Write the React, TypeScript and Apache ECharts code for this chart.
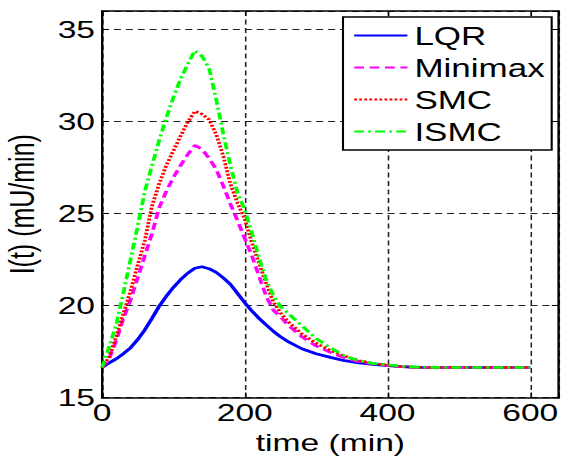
import React, { useEffect, useRef } from "react";
import * as echarts from "echarts";

const time = [0, 10, 20, 30, 40, 50, 60, 70, 80, 90, 100, 110, 120, 130, 140, 150, 160, 170, 180, 190, 200, 210, 220, 230, 240, 250, 260, 280, 300, 320, 340, 360, 380, 400, 420, 440, 480, 520, 560, 600];

const lqr = [16.63, 16.88, 17.1, 17.38, 17.7, 18.15, 18.68, 19.3, 19.95, 20.5, 20.98, 21.4, 21.75, 22.02, 22.1, 22.0, 21.8, 21.5, 21.15, 20.65, 20.15, 19.7, 19.3, 18.95, 18.6, 18.3, 18.05, 17.65, 17.38, 17.18, 17.0, 16.88, 16.8, 16.73, 16.68, 16.64, 16.63, 16.63, 16.63, 16.63];

const minimax = [16.63, 17.1, 18.1, 19.3, 20.3, 21.5, 22.7, 23.9, 25.3, 26.2, 26.95, 27.6, 28.2, 28.7, 28.5, 28.0, 27.4, 26.5, 25.5, 24.6, 23.65, 22.7, 21.6, 20.5, 19.75, 19.4, 18.95, 18.3, 17.8, 17.45, 17.15, 16.95, 16.83, 16.74, 16.68, 16.64, 16.63, 16.63, 16.63, 16.63];

const smc = [16.63, 17.2, 18.3, 19.55, 20.8, 22.2, 23.53, 25.4, 26.6, 27.6, 28.4, 29.2, 29.95, 30.55, 30.4, 30.1, 29.3, 28.1, 26.6, 25.55, 24.7, 23.4, 22.3, 21.2, 20.2, 19.6, 19.15, 18.45, 17.95, 17.55, 17.25, 17.0, 16.85, 16.75, 16.68, 16.64, 16.63, 16.63, 16.63, 16.63];

const ismc = [16.63, 17.75, 18.95, 20.7, 22.5, 24.3, 26.2, 27.6, 28.95, 30.2, 31.3, 32.3, 33.1, 33.85, 33.55, 32.9, 31.2, 29.3, 27.6, 26.1, 25.2, 23.95, 22.6, 21.4, 20.55, 19.95, 19.6, 18.9, 18.2, 17.7, 17.25, 17.0, 16.85, 16.77, 16.7, 16.65, 16.63, 16.63, 16.63, 16.63];

const seriesNames = ["LQR", "Minimax", "SMC", "ISMC"];
const xTickStep = 200;
const yTickStep = 5;

const S = 1.4;
const W = 563 / S;
const FONT = "Liberation Sans, Arial, sans-serif";

export default function App() {
  const ref = useRef<HTMLDivElement>(null);

  useEffect(() => {
    document.body.style.margin = "0";
    const chart = echarts.init(ref.current as HTMLDivElement, null, { renderer: "svg" });

    const mk = (name: string, data: number[], color: string, type: any) => ({
      name,
      type: "line",
      data: time.map((t, i) => [t, data[i]]),
      symbol: "none",
      showSymbol: false,
      smooth: false,
      lineStyle: { color, width: 2.7, type },
      itemStyle: { color },
      xAxisIndex: 0,
      yAxisIndex: 0,
    });

    const frameLine = { show: true, onZero: false, lineStyle: { color: "#000", width: 1.7 } };
    const tick = { show: true, inside: true, length: 5, lineStyle: { color: "#000", width: 1 } };
    const grid = { show: true, lineStyle: { color: "#222", type: [5, 3.5], width: 1.1 } };

    chart.setOption({
      animation: false,
      backgroundColor: "#fff",
      grid: {
        left: 102 / S,
        right: W - 559 / S,
        top: 11,
        bottom: 59.5,
        containLabel: false,
        outerBoundsMode: "none",
      },
      xAxis: [
        {
          type: "value",
          min: 0,
          max: 640,
          interval: xTickStep,
          position: "bottom",
          name: "time (min)",
          nameLocation: "middle",
          nameGap: 33,
          nameTextStyle: { fontSize: 24, color: "#000", fontFamily: FONT },
          axisLine: frameLine,
          axisTick: tick,
          axisLabel: {
            fontSize: 24,
            color: "#000",
            fontFamily: FONT,
            margin: 3,
            formatter: (v: number) => (v % xTickStep === 0 ? String(v) : ""),
          },
          splitLine: grid,
        },
        {
          type: "value",
          min: 0,
          max: 640,
          interval: xTickStep,
          position: "top",
          axisLine: frameLine,
          axisTick: tick,
          axisLabel: { show: false },
          splitLine: { show: false },
        },
      ],
      yAxis: [
        {
          type: "value",
          min: 15,
          max: 36,
          interval: yTickStep,
          position: "left",
          name: "I(t) (mU/min)",
          nameLocation: "middle",
          nameGap: 45,
          nameTextStyle: { fontSize: 25, color: "#000", fontFamily: FONT },
          axisLine: frameLine,
          axisTick: tick,
          axisLabel: {
            fontSize: 24,
            color: "#000",
            fontFamily: FONT,
            margin: 5,
            formatter: (v: number) => (v % yTickStep === 0 ? String(v) : ""),
          },
          splitLine: grid,
        },
        {
          type: "value",
          min: 15,
          max: 36,
          interval: yTickStep,
          position: "right",
          axisLine: frameLine,
          axisTick: tick,
          axisLabel: { show: false },
          splitLine: { show: false },
        },
      ],
      legend: {
        orient: "vertical",
        left: 343 / S,
        top: 17,
        itemWidth: 38,
        itemHeight: 14,
        itemGap: 7,
        padding: [6, 5, 6, 7],
        backgroundColor: "#fff",
        borderColor: "#000",
        borderWidth: 1.5,
        borderRadius: 0,
        itemStyle: { opacity: 0 },
        textStyle: { fontSize: 25, color: "#000", fontFamily: FONT },
        data: seriesNames,
      },
      series: [
        mk(seriesNames[0], lqr, "#0000ff", "solid"),
        mk(seriesNames[1], minimax, "#ff00ff", [7, 4]),
        mk(seriesNames[2], smc, "#ff0000", [2, 1.6]),
        mk(seriesNames[3], ismc, "#00ff00", [7, 3, 2, 3]),
      ],
    });

    return () => chart.dispose();
  }, []);

  return (
    <div style={{ width: 563, height: 457, overflow: "hidden", position: "relative", background: "#fff" }}>
      <div
        ref={ref}
        style={{ width: W, height: 457, transform: `scaleX(${S})`, transformOrigin: "0 0" }}
      />
    </div>
  );
}
